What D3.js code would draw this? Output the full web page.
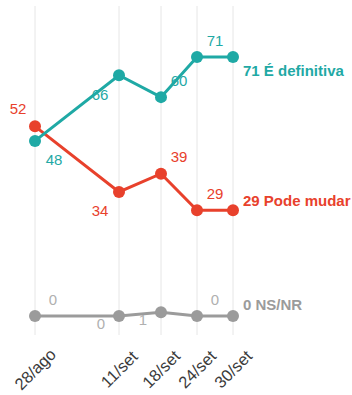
<!DOCTYPE html>
<html>
<head>
  <meta charset="utf-8">
  <title></title>
  <style type="text/css">
    body { margin: 0; background: #fff; }
    svg text { font-family: "Liberation Sans", Arial, sans-serif; }
  </style>
</head>
<body>
  <div id="my_dataviz"></div>
</body>
<script src="https://d3js.org/d3.v7.min.js"></script>

<script type="text/javascript">

      // survey dates and axis labels
      var dates = ["2022-08-28", "2022-09-11", "2022-09-18", "2022-09-24", "2022-09-30"];
      var dateLabels = ["28/ago", "11/set", "18/set", "24/set", "30/set"];

      // series values
      var definitiva = [48, 66, 60, 71, 71];
      var podeMudar = [52, 34, 39, 29, 29];
      var nsnr = [0, 0, 1, 0, 0];

      var seriesNames = ["É definitiva", "Pode mudar", "NS/NR"];

      // where each point label sits (compass code), last point has none
      var labelPos = [
        ["se", "sw", "ne", "ne", null],
        ["nw", "sw", "ne", "ne", null],
        ["ne", "w", "w", "ne", null]
      ];
      var offsets = { ne: [18, -17], se: [19, 19], sw: [-19, 19], nw: [-17, -18], w: [-18, 7] };
      var endDy = [13, -10, -12];

      var colors = ["#1fa9a5", "#e8412c", "#9b9b9b"];
      var numColors = ["#1fa9a5", "#e8412c", "#b0b0b0"];

      var width = 352, height = 395;

      var svg = d3.select("#my_dataviz")
        .append("svg")
          .attr("width", width)
          .attr("height", height);

      var parse = d3.timeParse("%Y-%m-%d");
      var parsed = dates.map(parse);

      var x = d3.scaleTime()
        .domain(d3.extent(parsed))
        .range([35, 233]);

      var y = d3.scaleLinear()
        .domain([0, 71])
        .range([316, 57]);

      // vertical gridlines
      svg.append("g")
        .selectAll("line")
        .data(parsed)
        .enter().append("line")
          .attr("x1", function(d) { return x(d); })
          .attr("x2", function(d) { return x(d); })
          .attr("y1", 6)
          .attr("y2", 335)
          .attr("stroke", "#e6e6e6")
          .attr("stroke-width", 1);

      // date labels, rotated
      svg.append("g")
        .selectAll("text")
        .data(parsed)
        .enter().append("text")
          .attr("transform", function(d) { return "translate(" + x(d) + ",369) rotate(-45)"; })
          .attr("text-anchor", "middle")
          .attr("dominant-baseline", "central")
          .attr("font-size", 16.5)
          .attr("fill", "#3a3a3a")
          .text(function(d, i) { return dateLabels[i]; });

      var allSeries = [definitiva, podeMudar, nsnr];

      var line = d3.line()
        .x(function(d, i) { return x(parsed[i]); })
        .y(function(d) { return y(d); });

      // draw gray first so colored lines sit on top
      [2, 1, 0].forEach(function(s) {
        var vals = allSeries[s];
        var g = svg.append("g");

        g.append("path")
          .datum(vals)
          .attr("d", line)
          .attr("fill", "none")
          .attr("stroke", colors[s])
          .attr("stroke-width", 3);

        g.selectAll("circle")
          .data(vals)
          .enter().append("circle")
            .attr("cx", function(d, i) { return x(parsed[i]); })
            .attr("cy", function(d) { return y(d); })
            .attr("r", 6)
            .attr("fill", colors[s]);

        g.selectAll("text.val")
          .data(vals)
          .enter().filter(function(d, i) { return labelPos[s][i]; })
          .append("text")
            .attr("class", "val")
            .attr("x", function(d, i) { return x(parsed[i]) + offsets[labelPos[s][i]][0]; })
            .attr("y", function(d, i) { return y(d) + offsets[labelPos[s][i]][1]; })
            .attr("text-anchor", "middle")
            .attr("dominant-baseline", "central")
            .attr("font-size", 15)
            .attr("fill", numColors[s])
            .text(function(d) { return d; });

        var last = vals.length - 1;
        g.append("text")
          .attr("x", x(parsed[last]) + 10)
          .attr("y", y(vals[last]) + endDy[s])
          .attr("dominant-baseline", "central")
          .attr("font-size", 15)
          .attr("font-weight", "bold")
          .attr("fill", colors[s])
          .text(vals[last] + " " + seriesNames[s]);
      });

</script>
</html>
